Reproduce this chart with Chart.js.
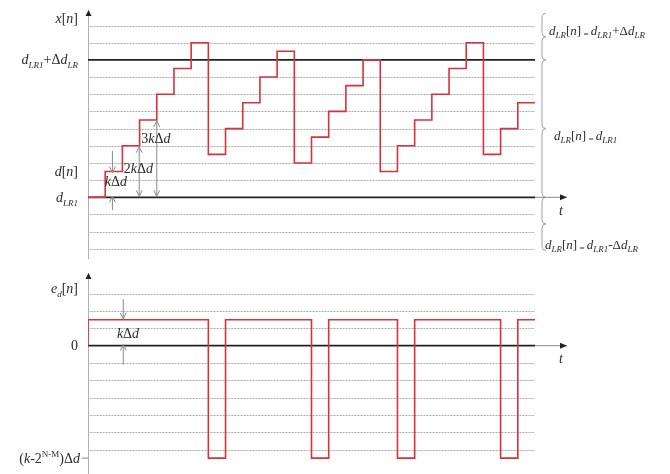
<!DOCTYPE html>
<html>
<head>
<meta charset="utf-8">
<script src="https://cdn.jsdelivr.net/npm/chart.js@4/dist/chart.umd.min.js"></script>
<style>
  html, body { margin: 0; padding: 0; background: #fff; }
  #wrap { position: relative; width: 670px; height: 474px; }
</style>
</head>
<body>
<div id="wrap"><canvas id="chart" width="670" height="474"></canvas></div>
<script>
// sample index n (time axis), one more than the samples to close the last step
const sampleTimes = [0, 1, 2, 3, 4, 5, 6, 7, 8, 9, 10, 11, 12, 13, 14, 15, 16, 17, 18, 19, 20, 21, 22, 23, 24, 25, 26];

// x[n] in grid units above d_LR1 (step kΔd = 1.5 grid, wrap 2^(N-M)Δd = 8 grid)
const xLevels = [0, 1.5, 3, 4.5, 6, 7.5, 9, 2.5, 4, 5.5, 7, 8.5, 2, 3.5, 5, 6.5, 8, 1.5, 3, 4.5, 6, 7.5, 9, 2.5, 4, 5.5];

// e_d[n] in grid units
const edStart = 0;
const edLevels = [1.5, 1.5, 1.5, 1.5, 1.5, 1.5, 1.5, -6.5, 1.5, 1.5, 1.5, 1.5, 1.5, -6.5, 1.5, 1.5, 1.5, 1.5, -6.5, 1.5, 1.5, 1.5, 1.5, 1.5, -6.5, 1.5];

// grid / reference levels
const topGridLevels = [-3, -2, -1, 1, 2, 3, 4, 5, 6, 7, 9, 10];
const topRefLevels = [0, 8];
const botGridLevels = [-6, -5, -4, -3, -2, -1, 1, 2, 3];
const botRefLevels = [0];

// tick labels (rich text segments: [text, style])
const topTickLabels = [
  { level: 10.4, segs: [["x", "i"], ["[", "n"], ["n", "i"], ["]", "n"]] },
  { level: 8, segs: [["d", "i"], ["LR1", "sub"], ["+Δ", "n"], ["d", "i"], ["LR", "sub"]] },
  { level: 1.5, segs: [["d", "i"], ["[", "n"], ["n", "i"], ["]", "n"]] },
  { level: 0, segs: [["d", "i"], ["LR1", "sub"]] }
];
const botTickLabels = [
  { level: 3.3, segs: [["e", "i"], ["d", "sub"], ["[", "n"], ["n", "i"], ["]", "n"]] },
  { level: 0, segs: [["0", "n"]] },
  { level: -6.5, segs: [["(", "n"], ["k", "i"], ["-2", "n"], ["N-M", "sup"], [")Δ", "n"], ["d", "i"]] }
];
const braceLabels = [
  { from: 10.7, to: 8, segs: [["d", "i"], ["LR", "sub"], ["[", "n"], ["n", "i"], ["]", "n"], [" = ", "subn"], ["d", "i"], ["LR1", "sub"], ["+Δ", "n"], ["d", "i"], ["LR", "sub"]], at: 9.7, dx: 7 },
  { from: 8, to: 0, segs: [["d", "i"], ["LR", "sub"], ["[", "n"], ["n", "i"], ["]", "n"], [" = ", "subn"], ["d", "i"], ["LR1", "sub"]], at: 3.6, dx: 12 },
  { from: 0, to: -3.1, segs: [["d", "i"], ["LR", "sub"], ["[", "n"], ["n", "i"], ["]", "n"], [" = ", "subn"], ["d", "i"], ["LR1", "sub"], ["-Δ", "n"], ["d", "i"], ["LR", "sub"]], at: -2.75, dx: 3 }
];

// layout
const W = 670, H = 474;
const AXIS_X = 88, PLOT_RIGHT = 535;
const TOP_ZERO = 197.3, TOP_PX = 17.18;
const BOT_ZERO = 345.7, BOT_PX = 17.3;
const FONT = '"Liberation Serif", "DejaVu Serif", serif';
const TEXT = "#2b2b2b";
const RED = "#d8323c";

function stepPoints(values, start) {
  const pts = [];
  if (start !== undefined) pts.push({ x: sampleTimes[0], y: start });
  values.forEach((v, i) => pts.push({ x: sampleTimes[i], y: v }));
  pts.push({ x: sampleTimes[values.length], y: values[values.length - 1] });
  return pts;
}

function refLine(level, axis) {
  return {
    data: [{ x: sampleTimes[0], y: level }, { x: sampleTimes[sampleTimes.length - 1], y: level }],
    yAxisID: axis, borderColor: "#222", borderWidth: 1.8, pointRadius: 0, order: 2
  };
}

// rich text helpers
function segFont(style, size) {
  if (style === "i") return "italic " + size + "px " + FONT;
  if (style === "sub") return "italic " + Math.round(size * 0.66) + "px " + FONT;
  if (style === "sup" || style === "subn") return Math.round(size * 0.66) + "px " + FONT;
  return size + "px " + FONT;
}
function segShift(style, size) {
  if (style === "sub") return size * 0.28;
  if (style === "subn") return size * 0.2;
  if (style === "sup") return -size * 0.42;
  return 0;
}
function richWidth(ctx, segs, size) {
  let w = 0;
  segs.forEach(([t, s]) => { ctx.font = segFont(s, size); w += ctx.measureText(t).width; });
  return w;
}
function drawRich(ctx, segs, x, yMid, size, align) {
  let cx = align === "right" ? x - richWidth(ctx, segs, size) : x;
  const base = yMid + size * 0.32;
  ctx.fillStyle = TEXT;
  ctx.textAlign = "left";
  ctx.textBaseline = "alphabetic";
  segs.forEach(([t, s]) => {
    ctx.font = segFont(s, size);
    ctx.fillText(t, cx, base + segShift(s, size));
    cx += ctx.measureText(t).width;
  });
}

function arrowHead(ctx, x, y, dir, filled) {
  // dir: 'up' | 'down' | 'right'
  ctx.beginPath();
  if (dir === "up") { ctx.moveTo(x - 3, y + 6); ctx.lineTo(x, y); ctx.lineTo(x + 3, y + 6); }
  if (dir === "down") { ctx.moveTo(x - 3, y - 6); ctx.lineTo(x, y); ctx.lineTo(x + 3, y - 6); }
  if (dir === "right") { ctx.moveTo(x - 7, y - 3); ctx.lineTo(x, y); ctx.lineTo(x - 7, y + 3); }
  if (filled) { ctx.closePath(); ctx.fill(); } else ctx.stroke();
}

function vArrow(ctx, x, y1, y2, both) {
  ctx.strokeStyle = "#8a8a8a";
  ctx.lineWidth = 1;
  ctx.beginPath(); ctx.moveTo(x, y1); ctx.lineTo(x, y2); ctx.stroke();
  arrowHead(ctx, x, y2, y2 > y1 ? "down" : "up", false);
  if (both) arrowHead(ctx, x, y1, y2 > y1 ? "up" : "down", false);
}

function brace(ctx, x, y1, y2) {
  const w = 4, ym = (y1 + y2) / 2;
  ctx.beginPath();
  ctx.moveTo(x + w, y1);
  ctx.quadraticCurveTo(x, y1, x, y1 + w);
  ctx.lineTo(x, ym - w);
  ctx.quadraticCurveTo(x, ym, x + w, ym);
  ctx.quadraticCurveTo(x, ym, x, ym + w);
  ctx.lineTo(x, y2 - w);
  ctx.quadraticCurveTo(x, y2, x + w, y2);
  ctx.stroke();
}

const gridPlugin = {
  id: "grid",
  beforeDatasetsDraw(chart) {
    const ctx = chart.ctx, sx = chart.scales.x;
    const x0 = sx.getPixelForValue(sampleTimes[0]);
    const x1 = sx.getPixelForValue(sampleTimes[sampleTimes.length - 1]);
    ctx.save();
    ctx.lineWidth = 1;
    const rows = [];
    topGridLevels.forEach(l => rows.push(chart.scales.yTop.getPixelForValue(l)));
    botGridLevels.forEach(l => rows.push(chart.scales.yBot.getPixelForValue(l)));
    rows.forEach(y => {
      const yy = Math.round(y) + 0.5;
      ctx.strokeStyle = "#d6d6d6";
      ctx.setLineDash([]);
      ctx.beginPath(); ctx.moveTo(x0, yy); ctx.lineTo(x1, yy); ctx.stroke();
      ctx.strokeStyle = "#ababab";
      ctx.setLineDash([1, 2]);
      ctx.beginPath(); ctx.moveTo(x0, yy); ctx.lineTo(x1, yy); ctx.stroke();
    });
    ctx.setLineDash([]);

    // y axes
    const ax = Math.round(sx.getPixelForValue(0)) + 0.5;
    ctx.strokeStyle = "#b0b0b0";
    ctx.beginPath();
    ctx.moveTo(ax, chart.scales.yTop.getPixelForValue(10.9));
    ctx.lineTo(ax, chart.scales.yTop.getPixelForValue(-3.6));
    ctx.moveTo(ax, chart.scales.yBot.getPixelForValue(4.2));
    ctx.lineTo(ax, H);
    ctx.stroke();
    ctx.restore();
  },
  afterDraw(chart) {
    const ctx = chart.ctx, sx = chart.scales.x;
    const yT = chart.scales.yTop, yB = chart.scales.yBot;
    const ax = Math.round(sx.getPixelForValue(0)) + 0.5;
    const xEnd = sx.getPixelForValue(sampleTimes[sampleTimes.length - 1]);
    ctx.save();

    // arrow heads of y axes
    ctx.fillStyle = "#222";
    arrowHead(ctx, ax, yT.getPixelForValue(10.9), "up", true);
    arrowHead(ctx, ax, yB.getPixelForValue(4.2), "up", true);

    // t axes
    ctx.strokeStyle = "#8a8a8a";
    ctx.lineWidth = 1;
    [yT.getPixelForValue(0), yB.getPixelForValue(0)].forEach(y => {
      ctx.beginPath(); ctx.moveTo(xEnd, y); ctx.lineTo(xEnd + 32, y); ctx.stroke();
      ctx.fillStyle = "#222";
      arrowHead(ctx, xEnd + 32, y, "right", true);
      drawRich(ctx, [["t", "i"]], xEnd + 24, y + 13, 14, "left");
    });

    // tick labels
    topTickLabels.forEach(l => drawRich(ctx, l.segs, AXIS_X - 10, yT.getPixelForValue(l.level), 14, "right"));
    botTickLabels.forEach(l => drawRich(ctx, l.segs, AXIS_X - (l.level < -6 ? 8 : 10), yB.getPixelForValue(l.level), 14, "right"));
    ctx.strokeStyle = "#888";
    ctx.beginPath();
    ctx.moveTo(AXIS_X - 6, yB.getPixelForValue(-6.5)); ctx.lineTo(AXIS_X, yB.getPixelForValue(-6.5));
    ctx.stroke();

    // kΔd annotations
    const kd = [["k", "i"], ["Δ", "n"], ["d", "i"]];
    vArrow(ctx, sx.getPixelForValue(1.42), yT.getPixelForValue(2.7), yT.getPixelForValue(1.5) + 1, false);
    vArrow(ctx, sx.getPixelForValue(1.42), yT.getPixelForValue(-0.75), yT.getPixelForValue(0) - 1, false);
    vArrow(ctx, sx.getPixelForValue(2.98), yT.getPixelForValue(3) + 1, yT.getPixelForValue(0) - 1, true);
    vArrow(ctx, sx.getPixelForValue(4.0), yT.getPixelForValue(4.5) + 1, yT.getPixelForValue(0) - 1, true);
    drawRich(ctx, kd, sx.getPixelForValue(0.98), yT.getPixelForValue(0.9), 14, "left");
    drawRich(ctx, [["2", "n"]].concat(kd), sx.getPixelForValue(2.08), yT.getPixelForValue(1.65), 14, "left");
    drawRich(ctx, [["3", "n"]].concat(kd), sx.getPixelForValue(3.1), yT.getPixelForValue(3.4), 14, "left");

    vArrow(ctx, sx.getPixelForValue(2.05), yB.getPixelForValue(2.7), yB.getPixelForValue(1.5) - 1, false);
    vArrow(ctx, sx.getPixelForValue(2.05), yB.getPixelForValue(-1.1), yB.getPixelForValue(0) - 1, false);
    drawRich(ctx, kd, sx.getPixelForValue(1.68), yB.getPixelForValue(0.72), 14, "left");

    // braces on the right
    ctx.strokeStyle = "#a0a0a0";
    ctx.lineWidth = 1;
    const bx = xEnd + 7;
    braceLabels.forEach(b => {
      brace(ctx, bx, yT.getPixelForValue(b.from), yT.getPixelForValue(b.to));
      drawRich(ctx, b.segs, bx + b.dx, yT.getPixelForValue(b.at), 13, "left");
    });
    ctx.restore();
  }
};

new Chart(document.getElementById("chart"), {
  type: "line",
  data: {
    datasets: [
      { data: stepPoints(xLevels), yAxisID: "yTop", borderColor: RED, borderWidth: 1.6, pointRadius: 0, stepped: "before", order: 1 },
      { data: stepPoints(edLevels, edStart), yAxisID: "yBot", borderColor: RED, borderWidth: 1.6, pointRadius: 0, stepped: "before", order: 1 },
      ...topRefLevels.map(l => refLine(l, "yTop")),
      ...botRefLevels.map(l => refLine(l, "yBot"))
    ]
  },
  options: {
    responsive: false,
    devicePixelRatio: 1,
    animation: false,
    events: [],
    layout: { padding: { left: AXIS_X, right: W - PLOT_RIGHT, top: 0, bottom: 0 } },
    plugins: { legend: { display: false }, tooltip: { enabled: false } },
    scales: {
      x: { type: "linear", display: false, min: sampleTimes[0], max: sampleTimes[sampleTimes.length - 1] },
      yTop: { type: "linear", display: false, min: (TOP_ZERO - H) / TOP_PX, max: TOP_ZERO / TOP_PX },
      yBot: { type: "linear", display: false, min: (BOT_ZERO - H) / BOT_PX, max: BOT_ZERO / BOT_PX }
    }
  },
  plugins: [gridPlugin]
});
</script>
</body>
</html>
